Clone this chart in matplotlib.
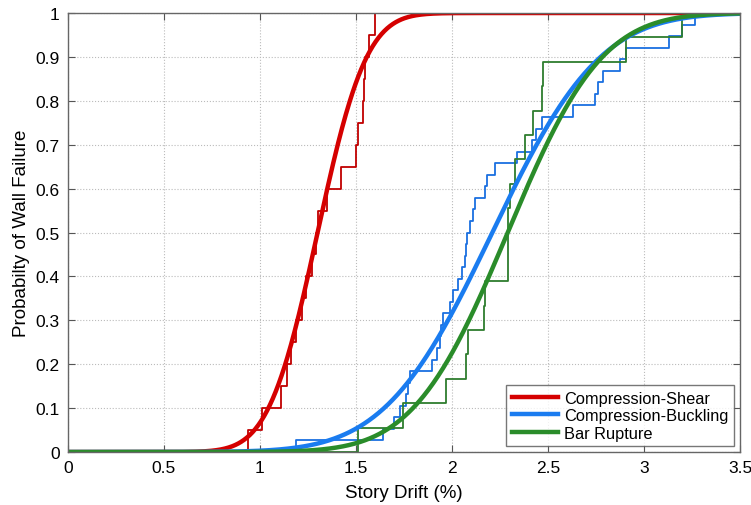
import numpy as np
import matplotlib.pyplot as plt
from math import erf, sqrt

plt.rcParams['font.family'] = ['Liberation Sans', 'DejaVu Sans']

# empirical drift at failure (%), one entry per wall, sorted
shear_drift = [0.94, 1.01, 1.11, 1.14, 1.16, 1.19, 1.22, 1.24, 1.27, 1.29,
               1.30, 1.35, 1.42, 1.50, 1.51, 1.535, 1.54, 1.545, 1.57, 1.60]
buckling_drift = [1.19, 1.64, 1.70, 1.73, 1.76, 1.77, 1.78, 1.895, 1.92, 1.94,
                  1.945, 1.955, 1.99, 2.005, 2.033, 2.05, 2.07, 2.075, 2.08, 2.094,
                  2.11, 2.12, 2.17, 2.18, 2.224, 2.34, 2.415, 2.44, 2.47, 2.63,
                  2.745, 2.76, 2.787, 2.875, 2.906, 3.13, 3.20, 3.266]
rupture_drift = [1.51, 1.746, 1.97, 2.075, 2.085, 2.165, 2.17, 2.293, 2.293, 2.293,
                 2.30, 2.33, 2.38, 2.42, 2.47, 2.476, 2.906, 3.20]

# fitted fragility parameters (mean drift, standard deviation)
shear_fit = (1.30, 0.20)
buckling_fit = (2.21, 0.44)
rupture_fit = (2.29, 0.385)

labels = ["Compression-Shear", "Compression-Buckling", "Bar Rupture"]
colors = ["#d50000", "#1a7cf0", "#2a8c2a"]
step_colors = ["#c00000", "#1a6fe0", "#2e7d2e"]


def normal_cdf(x, mu, sigma):
    return np.array([0.5 * (1 + erf((v - mu) / (sigma * sqrt(2)))) for v in x])


def empirical(drift):
    n = len(drift)
    xs = [0.0] + list(drift) + [3.5]
    ys = [0.0] + [(i + 1) / n for i in range(n)] + [1.0]
    return xs, ys


fig = plt.figure(figsize=(7.51, 5.06), dpi=100)
ax = fig.add_axes([0.0905, 0.1047, 0.8949, 0.8676])

x = np.linspace(0, 3.5, 700)
fits = [shear_fit, buckling_fit, rupture_fit]
drifts = [shear_drift, buckling_drift, rupture_drift]

for d, c in zip(drifts, step_colors):
    xs, ys = empirical(d)
    ax.step(xs, ys, where='post', color=c, lw=1.3)

for (m, s), c, lab in zip(fits, colors, labels):
    ax.plot(x, normal_cdf(x, m, s), color=c, lw=3.2, label=lab)

ax.set_xlim(0, 3.5)
ax.set_ylim(0, 1)
ax.set_xticks(np.arange(0, 3.51, 0.5))
ax.set_xticklabels(["0", "0.5", "1", "1.5", "2", "2.5", "3", "3.5"])
ax.set_yticks(np.arange(0, 1.01, 0.1))
ax.set_yticklabels(["0", "0.1", "0.2", "0.3", "0.4", "0.5", "0.6", "0.7", "0.8", "0.9", "1"])
ax.tick_params(direction='in', top=True, right=True, labelsize=12.5, color='#555555',
               length=5, pad=6)
ax.grid(True, linestyle=':', color='#bbbbbb', lw=0.8)
for s in ax.spines.values():
    s.set_color('#666666')
    s.set_linewidth(1.0)

ax.set_xlabel("Story Drift (%)", fontsize=13.5, labelpad=6)
ax.set_ylabel("Probabilty of Wall Failure", fontsize=13.5, labelpad=4)

leg = ax.legend(loc='lower right', fontsize=11.8, frameon=True, fancybox=False,
                edgecolor='#555555', borderpad=0.35, labelspacing=0.15,
                handlelength=2.8, handletextpad=0.4, borderaxespad=0.35)
leg.get_frame().set_linewidth(1.0)

fig.savefig("out.png", dpi=100)
